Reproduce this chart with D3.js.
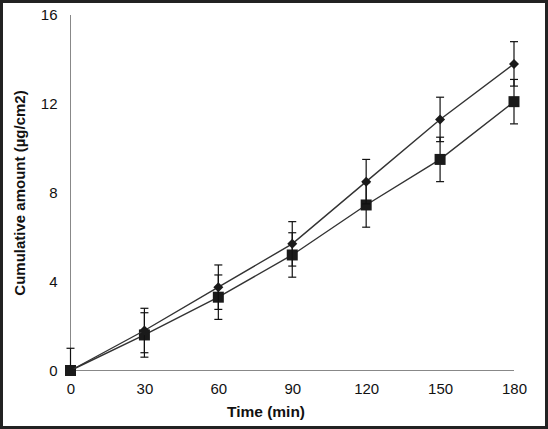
<!DOCTYPE html>
<html><head><meta charset="utf-8">
<script src="https://cdn.jsdelivr.net/npm/d3@7"></script>
<style>html,body{margin:0;padding:0;background:#fff;}svg{display:block;}</style>
</head><body>
<script>
const times = [0, 30, 60, 90, 120, 150, 180];
const seriesDiamond = [0, 1.8, 3.75, 5.7, 8.5, 11.3, 13.8];
const errDiamond = [1.0, 1.0, 1.0, 1.0, 1.0, 1.0, 1.0];
const seriesSquare = [0, 1.6, 3.3, 5.2, 7.45, 9.5, 12.1];
const errSquare = [0, 1.0, 1.0, 1.0, 1.0, 1.0, 1.0];
const yTicks = [0, 4, 8, 12, 16];
const xTicks = [0, 30, 60, 90, 120, 150, 180];

const W = 548, H = 429;
const svg = d3.select("body").append("svg").attr("width", W).attr("height", H);
svg.append("rect").attr("x", 1.5).attr("y", 1.5).attr("width", W - 3).attr("height", H - 3)
  .attr("fill", "#fff").attr("stroke", "#222").attr("stroke-width", 3);

const x = d3.scaleLinear().domain([0, 180]).range([70.5, 514]);
const y = d3.scaleLinear().domain([0, 16]).range([370.5, 15]);
const font = "'Liberation Sans', Arial, Helvetica, sans-serif";

const gx = svg.append("g").attr("transform", `translate(0,${y(0)})`)
  .call(d3.axisBottom(x).tickValues(xTicks).tickSize(0).tickPadding(13).tickSizeOuter(0));
gx.select(".domain").attr("stroke", "#888").attr("d", `M${x(0)},0H${x(180)}`);
gx.selectAll("text").attr("font-family", font).attr("font-size", 15).attr("fill", "#111");

const gy = svg.append("g").attr("transform", `translate(${x(0)},0)`)
  .call(d3.axisLeft(y).tickValues(yTicks).tickSize(0).tickPadding(13).tickSizeOuter(0));
gy.select(".domain").attr("stroke", "#888").attr("d", `M0,${y(0)}V${y(16)}`);
gy.selectAll("text").attr("font-family", font).attr("font-size", 15).attr("fill", "#111");

svg.append("text").attr("x", 266).attr("y", 417).attr("text-anchor", "middle")
  .attr("font-family", font).attr("font-size", 15.5).attr("font-weight", "bold").attr("fill", "#111")
  .text("Time (min)");
svg.append("text").attr("transform", `translate(25,${193}) rotate(-90)`).attr("text-anchor", "middle")
  .attr("font-family", font).attr("font-size", 15).attr("font-weight", "bold").attr("fill", "#111")
  .text("Cumulative amount (µg/cm2)");

function drawSeries(vals, errs) {
  const data = times.map((t, i) => ({t, v: vals[i], e: errs[i]}));
  const g = svg.append("g");
  data.filter(d => d.e > 0).forEach(d => {
    const cx = x(d.t), y1 = y(d.v + d.e), y2 = y(d.v - d.e);
    g.append("line").attr("x1", cx).attr("x2", cx).attr("y1", y1).attr("y2", Math.min(y2, y(0)))
      .attr("stroke", "#111").attr("stroke-width", 1.2);
    g.append("line").attr("x1", cx - 4).attr("x2", cx + 4).attr("y1", y1).attr("y2", y1)
      .attr("stroke", "#111").attr("stroke-width", 1.2);
    if (d.v - d.e >= 0) {
      g.append("line").attr("x1", cx - 4).attr("x2", cx + 4).attr("y1", y2).attr("y2", y2)
        .attr("stroke", "#111").attr("stroke-width", 1.2);
    }
  });
  g.append("path").datum(data)
    .attr("d", d3.line().x(d => x(d.t)).y(d => y(d.v)))
    .attr("fill", "none").attr("stroke", "#333").attr("stroke-width", 1.4);
  return {g, data};
}

const s2 = drawSeries(seriesSquare, errSquare);
const s1 = drawSeries(seriesDiamond, errDiamond);

s2.g.selectAll("rect.m").data(s2.data).join("rect").attr("class", "m")
  .attr("x", d => x(d.t) - 5.5).attr("y", d => y(d.v) - 5.5)
  .attr("width", 11).attr("height", 11).attr("fill", "#1a1a1a");
s1.g.selectAll("path.m").data(s1.data).join("path").attr("class", "m")
  .attr("transform", d => `translate(${x(d.t)},${y(d.v)}) rotate(45)`)
  .attr("d", d3.symbol().type(d3.symbolSquare).size(50))
  .attr("fill", "#1a1a1a");
</script>
</body></html>
